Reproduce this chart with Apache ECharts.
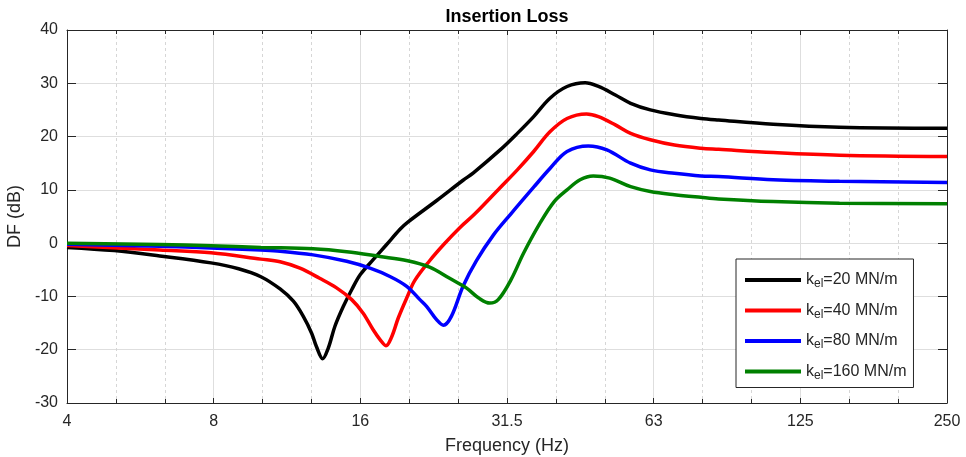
<!DOCTYPE html>
<html><head><meta charset="utf-8">
<script src="https://cdn.jsdelivr.net/npm/echarts@6/dist/echarts.min.js"></script>
<style>html,body{margin:0;padding:0;background:#fff}#c{width:966px;height:457px}</style>
</head><body><div id="c"></div>
<script>
// ---- data ----
const stiffness = [20, 40, 80, 160];               // k_el in MN/m
const xTickValues = [4, 8, 16, 32, 64, 128, 256];  // octave positions
const xTickLabels = ['4', '8', '16', '31.5', '63', '125', '250'];

const freq20 = [4, 5, 6.2, 7.9, 9.0, 10, 10.95, 11.66, 12.22, 12.71, 13.0, 13.39, 13.75, 14.19, 14.76, 15.36, 16, 17.0, 18.1, 19.3, 20.0, 22.96, 26.0, 27.3, 30.9, 33.6, 36.3, 39.2, 42.5, 46.3, 49.3, 53.4, 57.4, 63, 70.6, 80, 87, 112.6, 154, 256];
const df20   = [-0.8, -1.4, -2.4, -3.7, -4.8, -6.3, -8.6, -10.9, -13.75, -16.9, -19.4, -21.7, -19.7, -15.6, -11.9, -8.75, -5.9, -3.1, -0.3, 2.6, 3.9, 8.0, 11.8, 13.2, 17.4, 20.6, 23.75, 27.2, 29.4, 30.1, 29.4, 27.8, 26.25, 25.0, 24.1, 23.4, 23.1, 22.3, 21.75, 21.55];

const freq40 = [4, 6.2, 7.9, 10, 10.95, 12.03, 13.2, 14.3, 15.36, 16.2, 17.0, 17.56, 18.06, 18.55, 19.15, 19.92, 20.7, 22.2, 23.7, 25.6, 27.5, 30.9, 33.6, 36.3, 39.2, 42.5, 46.6, 49.3, 53.4, 57.4, 63, 70.6, 80, 87, 112.6, 154, 256];
const df40   = [-0.45, -1.3, -1.8, -3.0, -3.5, -4.7, -6.6, -8.4, -10.6, -13.1, -16.25, -18.1, -19.25, -17.6, -14.0, -10.3, -7.0, -3.3, -0.3, 2.9, 5.5, 10.3, 13.75, 17.2, 20.9, 23.4, 24.25, 23.75, 22.2, 20.6, 19.4, 18.4, 17.8, 17.6, 17.0, 16.5, 16.25];

const freq80 = [4, 6.2, 7.9, 10, 10.95, 12.8, 15.0, 16.75, 18.4, 19.92, 21.2, 21.9, 22.96, 23.7, 24.6, 26.0, 27.7, 30.0, 32.6, 36.3, 39.2, 42.5, 47.0, 51.3, 57.4, 63, 70.6, 80, 87, 112.6, 154, 256];
const df80   = [-0.2, -0.6, -0.9, -1.3, -1.5, -2.2, -3.4, -4.7, -6.25, -8.1, -10.6, -11.9, -14.4, -15.4, -13.75, -8.1, -3.3, 1.5, 5.5, 10.5, 14.0, 17.2, 18.25, 17.5, 15.0, 13.75, 13.1, 12.6, 12.5, 11.9, 11.6, 11.4];

const freq160 = [4, 6.2, 7.9, 10, 12.8, 15.0, 17.56, 20.0, 22.2, 24.4, 26.4, 28.0, 29.5, 30.7, 32.6, 34.6, 37.4, 40, 42.5, 45.2, 48.1, 52.0, 57.4, 63, 70.6, 80, 87, 112.6, 154, 256];
const df160   = [0.0, -0.25, -0.5, -0.8, -1.05, -1.6, -2.5, -3.3, -4.5, -6.6, -8.4, -10.3, -11.25, -10.6, -6.9, -1.9, 3.75, 7.8, 10.0, 11.9, 12.6, 12.2, 10.6, 9.7, 9.1, 8.6, 8.3, 7.8, 7.5, 7.4];

const seriesFreq = [freq20, freq40, freq80, freq160];
const seriesDf = [df20, df40, df80, df160];

// ---- styles ----
const lineColors = ['#000000', '#ff0000', '#0000ff', '#008000'];
const FONT = '"Liberation Sans", Arial, Helvetica, sans-serif';
const TXT = '#262626';

const labelMap = {};
xTickValues.forEach((v, i) => labelMap[v] = xTickLabels[i]);

const series = stiffness.map((k, i) => ({
  name: 'k_el=' + k + ' MN/m',
  type: 'line',
  xAxisIndex: 0, yAxisIndex: 0,
  data: seriesFreq[i].map((f, j) => [f, seriesDf[i][j]]),
  showSymbol: false,
  smooth: 0.35,
  lineStyle: { width: 3.5, color: lineColors[i] },
  itemStyle: { color: lineColors[i] },
  z: 5
}));

const chart = echarts.init(document.getElementById('c'), null, { renderer: 'canvas' });
const log2min = Math.log2(xTickValues[0]), log2max = Math.log2(xTickValues[xTickValues.length - 1]);

chart.setOption({
  animation: false,
  backgroundColor: '#fff',
  textStyle: { fontFamily: FONT },
  title: {
    text: 'Insertion Loss', left: 507, top: 8, textAlign: 'center', padding: 0,
    textStyle: { fontSize: 18, fontWeight: 'bold', color: '#000', fontFamily: FONT }
  },
  grid: { left: 67, right: 19, top: 30, bottom: 54, containLabel: false, outerBoundsMode: 'none' },
  legend: {
    orient: 'vertical', left: 736, top: 259,
    backgroundColor: '#fff', borderColor: TXT, borderWidth: 1, borderRadius: 0,
    padding: [7, 7, 6, 9], itemGap: 6.5,
    itemWidth: 56, itemHeight: 4, icon: 'rect',
    formatter: name => name.replace('k_el', 'k{sub|el}'),
    textStyle: {
      fontSize: 16, color: TXT, fontFamily: FONT, lineHeight: 20,
      rich: { sub: { fontSize: 12, color: TXT, fontFamily: FONT, verticalAlign: 'bottom', lineHeight: 12, padding: [12, 0, 0, 0] } }
    }
  },
  xAxis: [
    {
      type: 'log', logBase: 2, min: xTickValues[0], max: xTickValues[xTickValues.length - 1],
      position: 'bottom',
      axisLine: { show: true, onZero: false, lineStyle: { color: TXT, width: 1 } },
      axisTick: { show: false }, splitLine: { show: false }, minorTick: { show: false },
      axisLabel: { formatter: v => labelMap[Math.round(v)] || '', fontSize: 16, color: TXT, margin: 11, showMinLabel: true, showMaxLabel: true, fontFamily: FONT },
      name: 'Frequency (Hz)', nameLocation: 'middle', nameGap: 34,
      nameTextStyle: { fontSize: 18, color: TXT, fontFamily: FONT }
    },
    {
      type: 'value', min: log2min, max: log2max, interval: 1, position: 'bottom',
      axisLine: { show: false, onZero: false }, axisLabel: { show: false },
      axisTick: { show: true, inside: true, length: 5, lineStyle: { color: TXT } },
      minorTick: { show: true, splitNumber: 3, length: 4, lineStyle: { color: TXT } },
      splitLine: { show: true, lineStyle: { color: '#dedede', width: 1 } },
      minorSplitLine: { show: true, lineStyle: { color: '#d6d6d6', width: 1, type: [3, 3] } }
    },
    {
      type: 'value', min: log2min, max: log2max, interval: 1, position: 'top',
      axisLine: { show: true, onZero: false, lineStyle: { color: TXT, width: 1 } }, axisLabel: { show: false },
      axisTick: { show: true, inside: true, length: 5, lineStyle: { color: TXT } },
      minorTick: { show: true, splitNumber: 3, length: 4, lineStyle: { color: TXT } },
      splitLine: { show: false }
    }
  ],
  yAxis: [
    {
      type: 'value', min: -30, max: 40, interval: 10, position: 'left',
      axisLine: { show: true, onZero: false, lineStyle: { color: TXT, width: 1 } },
      axisTick: { show: true, inside: true, length: 9, lineStyle: { color: TXT } },
      axisLabel: { fontSize: 16, color: TXT, margin: 9, fontFamily: FONT },
      splitLine: { show: true, lineStyle: { color: '#dedede', width: 1 } },
      name: 'DF (dB)', nameLocation: 'middle', nameGap: 40,
      nameTextStyle: { fontSize: 18, color: TXT, fontFamily: FONT }
    },
    {
      type: 'value', min: -30, max: 40, interval: 10, position: 'right',
      axisLine: { show: true, onZero: false, lineStyle: { color: TXT, width: 1 } },
      axisTick: { show: true, inside: true, length: 9, lineStyle: { color: TXT } },
      axisLabel: { show: false }, splitLine: { show: false }
    }
  ],
  series: series
});
</script>
</body></html>
